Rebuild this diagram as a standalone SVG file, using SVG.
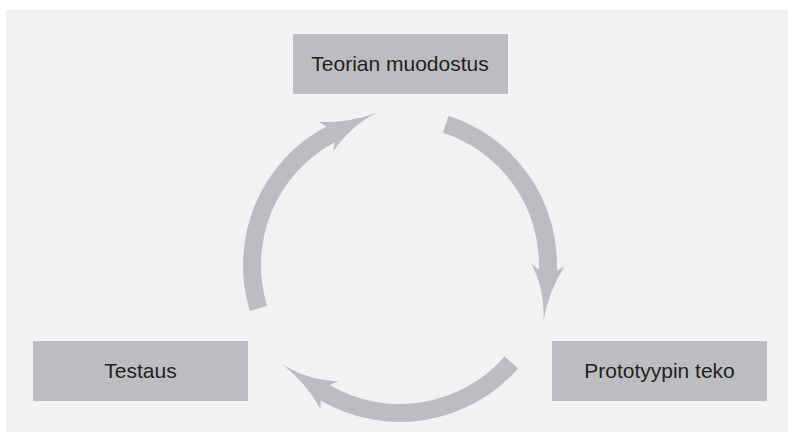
<svg xmlns="http://www.w3.org/2000/svg" width="788" height="432" viewBox="0 0 788 432">
<style>
.box{fill:#bcbdc0}
.lbl{font-family:"Liberation Sans",Arial,sans-serif;font-size:21px;fill:#231f20;text-anchor:middle}
.arr{fill:#bcbdc0}
</style>
<rect x="0" y="0" width="788" height="432" fill="#ffffff"/>
<rect x="6" y="10" width="782" height="422" fill="#f1f2f4"/>
<g id="connectors">
<path id="arrow-testaus-teoria" class="arr" d="M249.86 310.90 A157 157 0 0 1 326.29 126.38 L319.00 121.83 Q348.8 123.2 376.71 112.77 Q349.7 126.3 333.26 151.70 L334.74 142.27 A139 139 0 0 0 267.07 305.64 Z"/>
<path id="arrow-teoria-prototyyppi" class="arr" transform="rotate(120 400 265)" d="M246.43 297.64 A157 157 0 0 1 326.29 126.38 L319.00 121.83 Q348.8 123.2 376.71 112.77 Q349.7 126.3 333.26 151.70 L334.74 142.27 A139 139 0 0 0 264.04 293.90 Z"/>
<path id="arrow-prototyyppi-testaus" class="arr" transform="rotate(238.4 400 265)" d="M250.02 311.43 A157 157 0 0 1 326.29 126.38 L319.00 121.83 Q348.8 123.2 376.71 112.77 Q349.7 126.3 333.26 151.70 L334.74 142.27 A139 139 0 0 0 267.22 306.10 Z"/>
</g>
<g id="node-teoria">
<rect class="box" x="293" y="34" width="215" height="60"/>
<text class="lbl" x="400" y="71">Teorian muodostus</text>
</g>
<g id="node-testaus">
<rect class="box" x="33" y="341" width="215" height="60"/>
<text class="lbl" x="140.5" y="378">Testaus</text>
</g>
<g id="node-prototyyppi">
<rect class="box" x="552" y="341" width="215" height="60"/>
<text class="lbl" x="659.5" y="378">Prototyypin teko</text>
</g>
</svg>
